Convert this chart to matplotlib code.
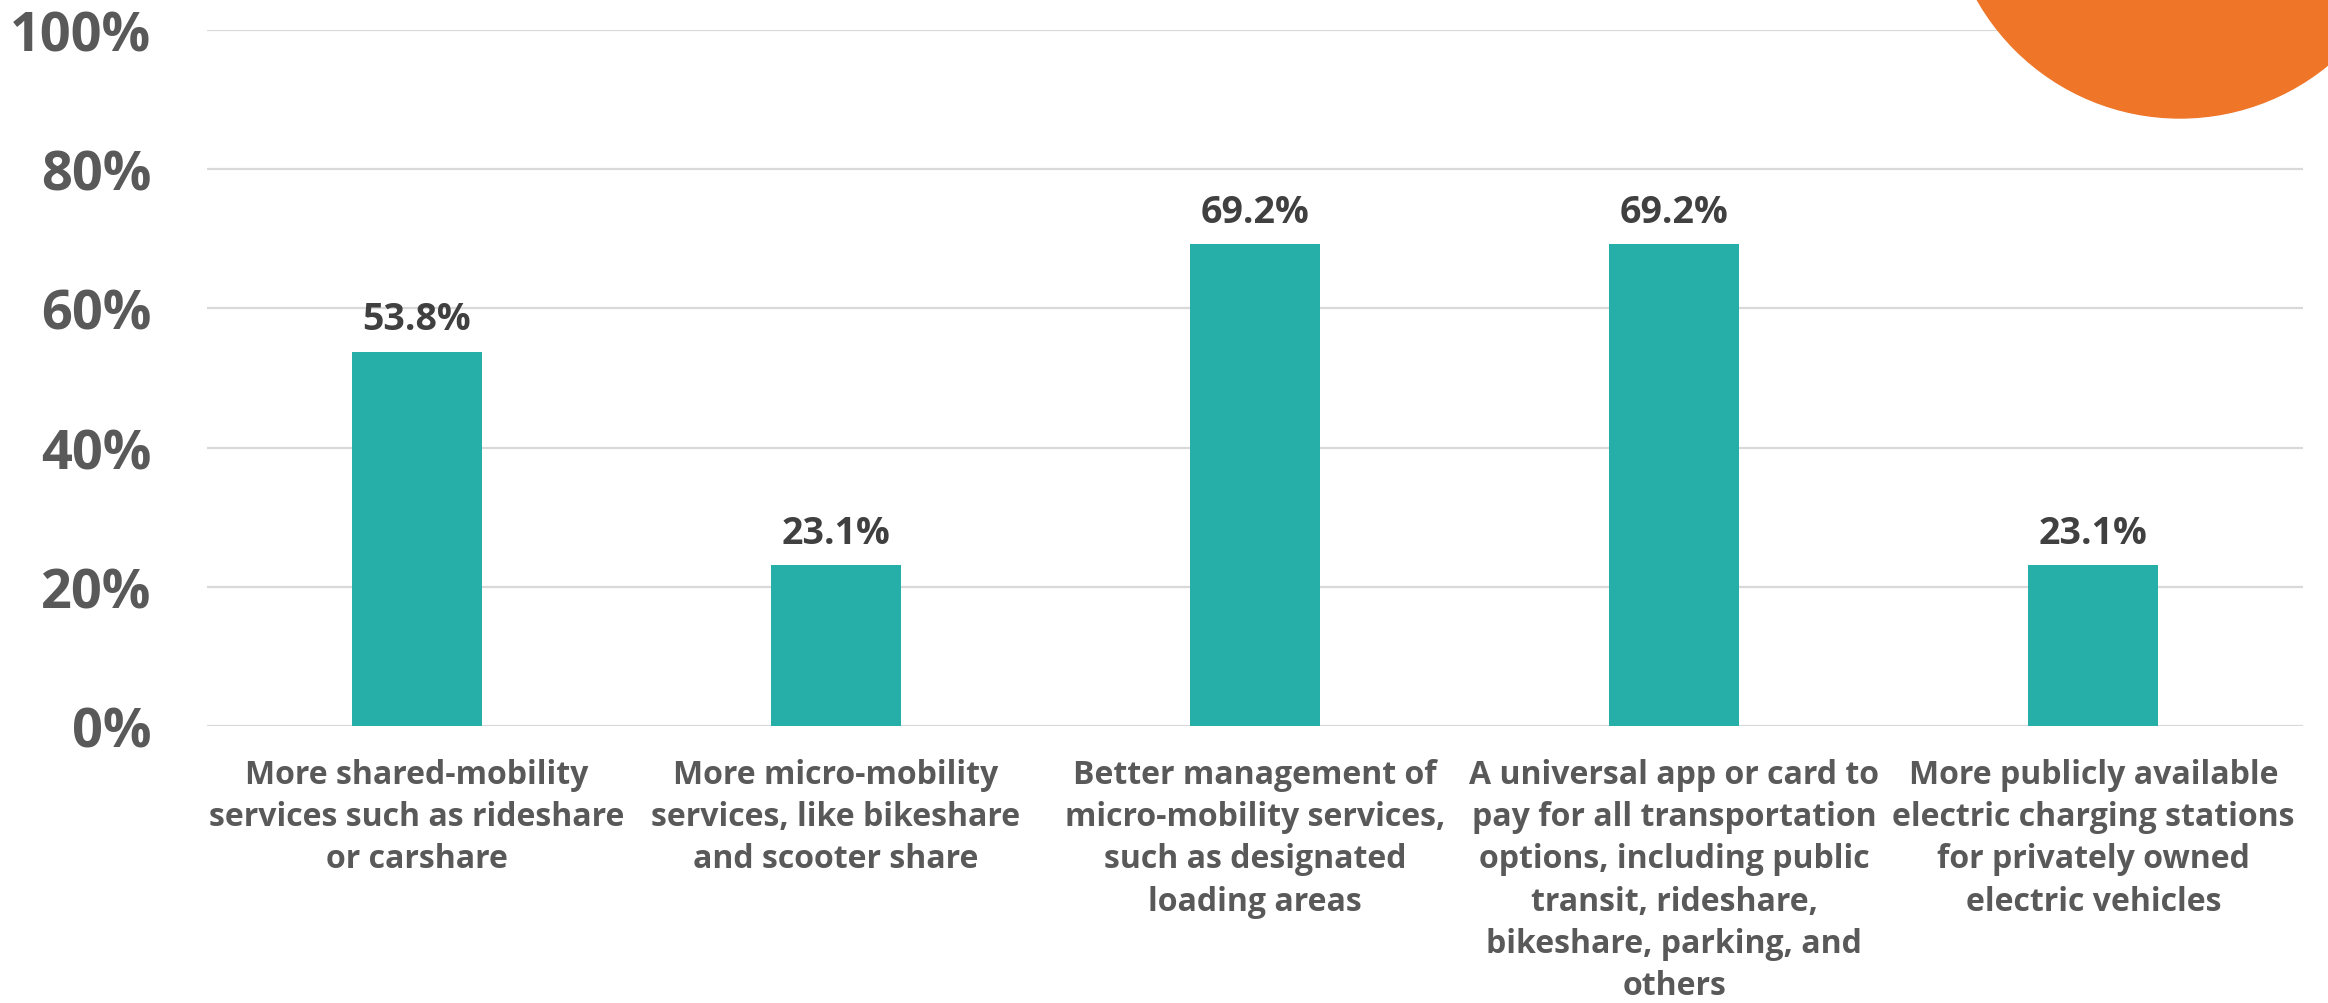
import numpy as np
import matplotlib
matplotlib.use("Agg")
import matplotlib.pyplot as plt
from matplotlib.patches import Ellipse

# data
categories = [
    "More shared-mobility\nservices such as rideshare\nor carshare",
    "More micro-mobility\nservices, like bikeshare\nand scooter share",
    "Better management of\nmicro-mobility services,\nsuch as designated\nloading areas",
    "A universal app or card to\npay for all transportation\noptions, including public\ntransit, rideshare,\nbikeshare, parking, and\nothers",
    "More publicly available\nelectric charging stations\nfor privately owned\nelectric vehicles",
]
values = [53.8, 23.1, 69.2, 69.2, 23.1]
yticks = [0, 20, 40, 60, 80, 100]
ytick_labels = ["0%", "20%", "40%", "60%", "80%", "100%"]

plt.rcParams['font.family'] = ['Open Sans', 'DejaVu Sans']

W, H = 2328, 1004
fig = plt.figure(figsize=(W/100, H/100), dpi=100)
ax = fig.add_axes([207/W, 1-727/H, (2303-207)/W, (727-31)/H])

x = np.arange(len(values))
ax.bar(x, values, width=0.31, color='#26AFA8', zorder=3)
for xi, v in zip(x, values):
    ax.annotate("%.1f%%" % v, (xi, v), xytext=(0, 16), textcoords='offset points',
                ha='center', va='baseline', fontsize=27, fontweight='bold', color='#404040')

ax.set_xlim(-0.5, len(values)-0.5)
ax.set_ylim(0, 100)
ax.set_yticks(yticks)
ax.set_yticklabels(ytick_labels, fontsize=39, fontweight='bold', color='#595959')
ax.tick_params(axis='y', length=0, pad=40)
ax.set_xticks(x)
ax.set_xticklabels(categories, fontsize=23, fontweight='bold', color='#595959', linespacing=1.37)
ax.tick_params(axis='x', length=0, pad=23)
ax.grid(axis='y', color='#D9D9D9', linewidth=1.6, zorder=0)
ax.set_axisbelow(True)
for s in ax.spines.values():
    s.set_visible(False)

# orange decoration in the top right corner
r = 233
fig.add_artist(Ellipse((2180/W, 1+114/H), 2*r/W, 2*r/H, color='#EF7628', zorder=10))

fig.savefig("out.png", dpi=100)
